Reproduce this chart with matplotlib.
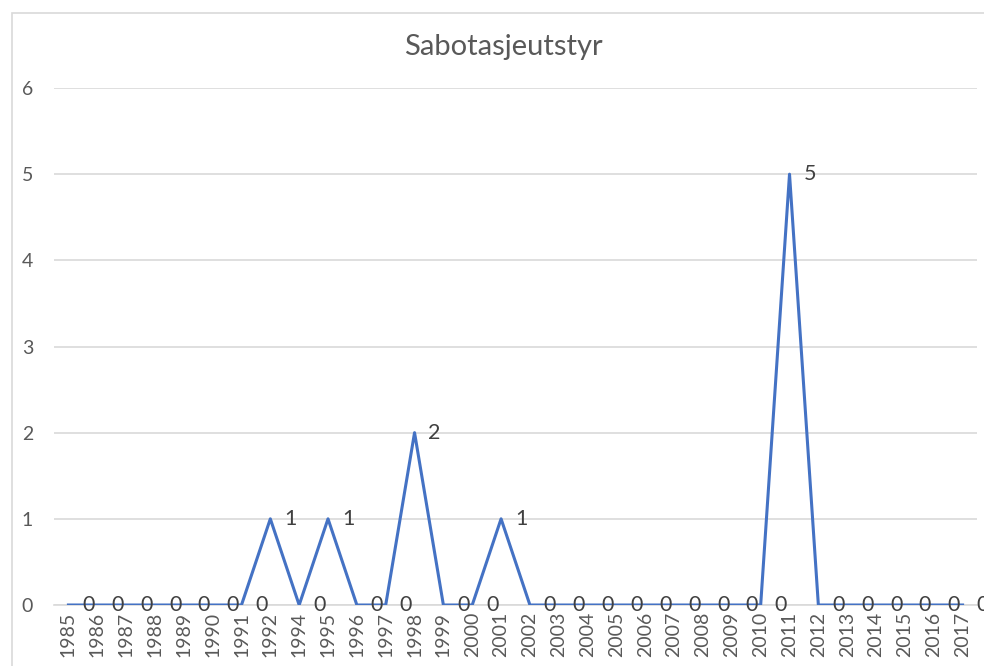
import matplotlib
matplotlib.use('Agg')
import matplotlib.pyplot as plt
from matplotlib.patches import Rectangle

plt.rcParams['font.family'] = ['Lato', 'DejaVu Sans']

# data
years = ['1985', '1986', '1987', '1988', '1989', '1990', '1991', '1992',
         '1994', '1995', '1996', '1997', '1998', '1999', '2000', '2001',
         '2002', '2003', '2004', '2005', '2006', '2007', '2008', '2009',
         '2010', '2011', '2012', '2013', '2014', '2015', '2016', '2017']
counts = [0, 0, 0, 0, 0, 0, 0, 1,
          0, 1, 0, 0, 2, 0, 0, 1,
          0, 0, 0, 0, 0, 0, 0, 0,
          0, 5, 0, 0, 0, 0, 0, 0]
title = 'Sabotasjeutstyr'

W, H = 984, 666
fig = plt.figure(figsize=(W / 100, H / 100), dpi=100)

# chart frame (extends past right/bottom edge)
fig.patches.append(Rectangle((12 / W, -0.1), 1.2, 1 - 13 / H + 0.1,
                             transform=fig.transFigure, fill=False,
                             edgecolor='#d9d9d9', linewidth=1.2))

left, right = 54 / W, 977 / W
bottom, top = 1 - 605 / H, 1 - 88 / H
ax = fig.add_axes([left, bottom, right - left, top - bottom])

x = list(range(len(years)))
ax.plot(x, counts, color='#4472C4', linewidth=2.2, zorder=3)

for xi, yi in zip(x, counts):
    ax.annotate(str(yi), (xi, yi), xytext=(14.5, 0), textcoords='offset points',
                ha='center', va='center', fontsize=15.5, color='#404040',
                annotation_clip=False, zorder=4)

ax.set_xlim(-0.5, len(years) - 0.5)
ax.set_ylim(0, 6)
ax.set_yticks(range(0, 7))
ax.set_xticks(x)
ax.set_xticklabels(years, rotation=90, fontsize=14, color='#595959')
ax.tick_params(axis='y', length=0, pad=15, labelsize=14, labelcolor='#595959')
ax.tick_params(axis='x', length=0, pad=5)
ax.grid(axis='y', color='#d9d9d9', linewidth=1.2)
ax.set_axisbelow(True)
for s in ['top', 'right', 'left']:
    ax.spines[s].set_visible(False)
ax.spines['bottom'].set_color('#d9d9d9')
ax.spines['bottom'].set_linewidth(1.2)

fig.text(503 / W, 1 - 47 / H, title, ha='center', va='center',
         fontsize=21, color='#595959')

fig.savefig('out.png', dpi=100)
